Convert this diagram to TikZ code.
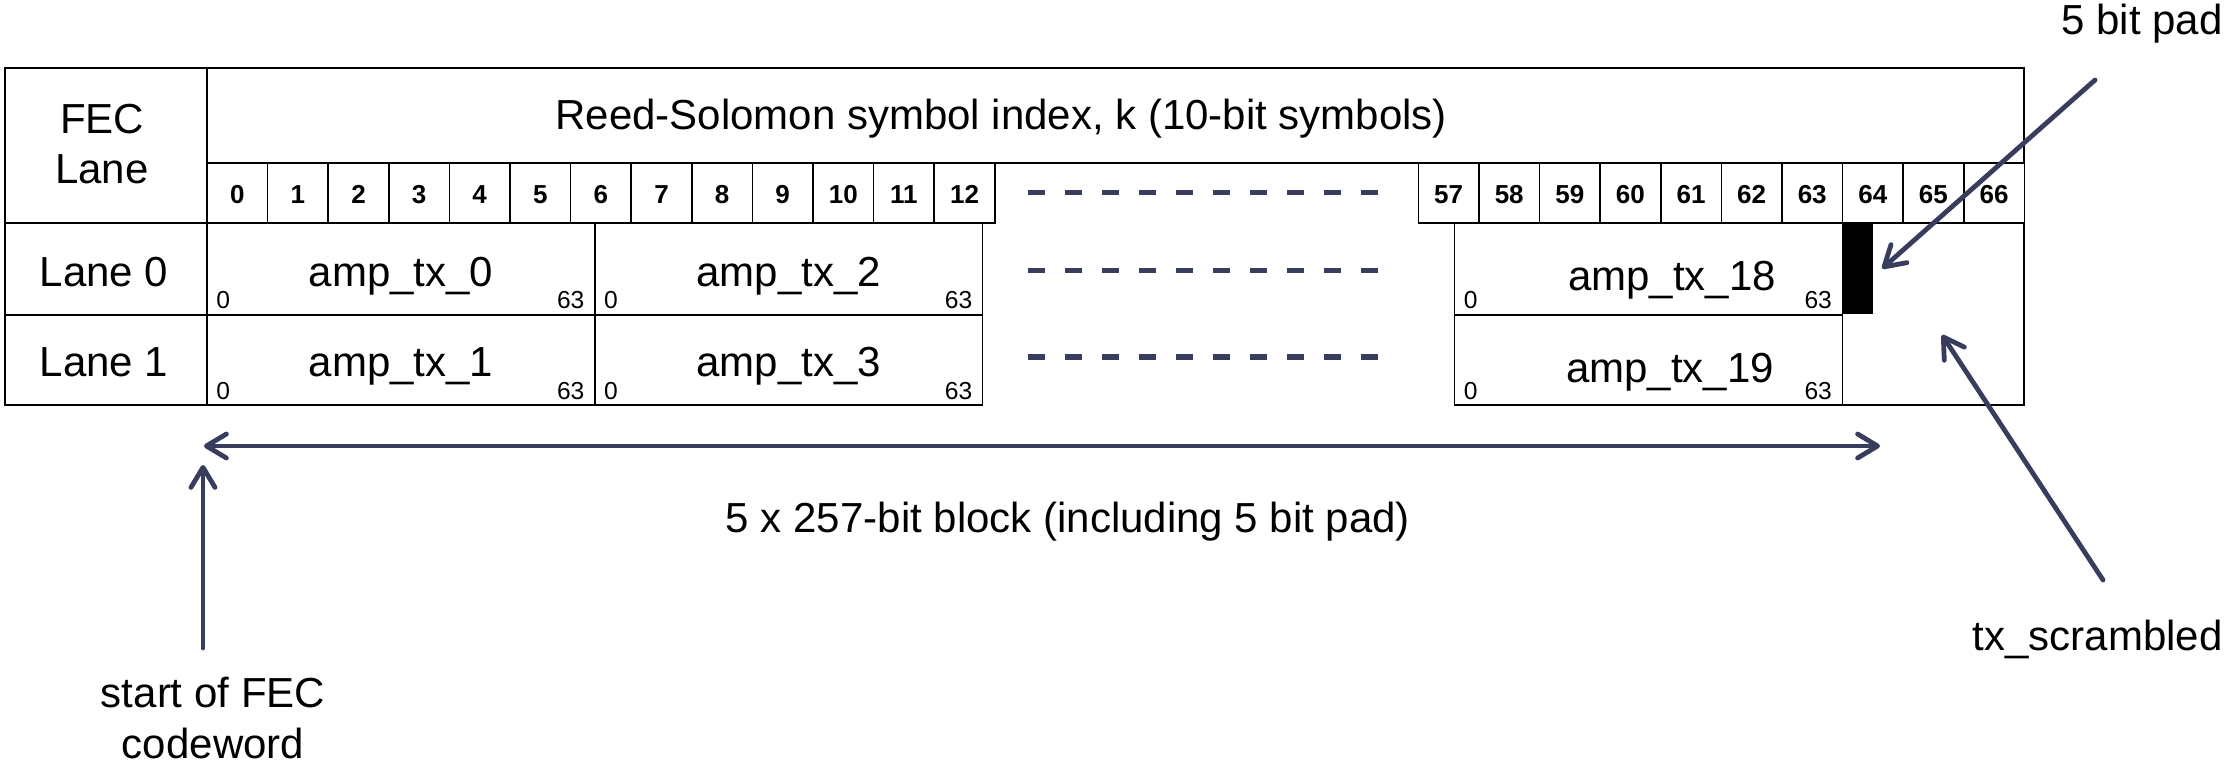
\documentclass[tikz,border=0pt]{standalone}
\usepackage{fontspec}
\setmainfont{Liberation Sans}
\usetikzlibrary{arrows.meta}
\definecolor{navy}{RGB}{56,61,94}
\begin{document}
\begin{tikzpicture}[x=0.5pt,y=-0.5pt,
  grid/.style={draw=black,line width=0.8pt},
  big/.style={font=\fontsize{21}{25}\selectfont,inner sep=0pt},
  idx/.style={font=\fontsize{13}{15}\selectfont\bfseries,anchor=base,inner sep=0pt},
  small/.style={font=\fontsize{12.3}{14}\selectfont,inner sep=0pt},
  tip/.tip={Straight Barb[length=10pt,width=12pt,line cap=round,line join=round]},
  arr/.style={draw=navy,line width=2.4pt,line cap=round,-tip},
  darr/.style={arr,tip-tip},
  gap/.style={draw=navy,line width=2.7pt,dash pattern=on 8.5pt off 10pt}]
\useasboundingbox (0,0) rectangle (2226,764);

% cell width of one 10-bit symbol
\def\cw{60.6}

% left column and header
\draw[grid] (5,68) rectangle (207,223);
\draw[grid] (5,223) rectangle (207,315);
\draw[grid] (5,315) rectangle (207,405);
\draw[grid] (207,68) rectangle (2024,163);
\node[big,align=center,font=\fontsize{21}{25}\selectfont] (feclane) at (102,144) {FEC\\Lane};
\node[big,anchor=base west] (rshead) at (555,130) {Reed-Solomon symbol index, k (10-bit symbols)};

% symbol index cells 0..12
\foreach \i in {0,...,12}{
  \draw[grid] ({207+\i*\cw},163) rectangle ({207+(\i+1)*\cw},223);
  \node[idx] (k\i) at ({207+(\i+0.5)*\cw},204) {\i};
}
% symbol index cells 57..66
\foreach \k [count=\j from 0] in {57,...,66}{
  \draw[grid] ({1418.3+\j*\cw},163) rectangle ({1418.3+(\j+1)*\cw},223);
  \node[idx] (k\k) at ({1418.3+(\j+0.5)*\cw},204) {\k};
}

% lane labels
\node[big,anchor=base] (lane0) at (104,287) {Lane 0};
\node[big,anchor=base] (lane1) at (104,377) {Lane 1};

% alignment marker blocks
\draw[grid] (207,223) rectangle (594.8,315);
\draw[grid] (207,315) rectangle (594.8,405);
\draw[grid] (594.8,223) rectangle (982.6,315);
\draw[grid] (594.8,315) rectangle (982.6,405);
\draw[grid] (1454.5,223) rectangle (1842.3,315);
\draw[grid] (1454.5,315) rectangle (1842.3,405);
\draw[grid] (1842.3,223) rectangle (2024,405);

\node[big,anchor=base] (amp0) at (401,287) {amp\_tx\_0};
\node[big,anchor=base] (amp2) at (788.7,287) {amp\_tx\_2};
\node[big,anchor=base] (amp18) at (1672,291) {amp\_tx\_18};
\node[big,anchor=base] (amp1) at (401,377) {amp\_tx\_1};
\node[big,anchor=base] (amp3) at (788.7,377) {amp\_tx\_3};
\node[big,anchor=base] (amp19) at (1670,383) {amp\_tx\_19};

% bit positions inside each block
\foreach \l/\r/\n in {207/594.8/a, 594.8/982.6/b, 1454.5/1842.3/c}{
  \node[small,anchor=base west] (lo0\n) at ({\l+9},308.5) {0};
  \node[small,anchor=base east] (hi0\n) at ({\r-10},308.5) {63};
  \node[small,anchor=base west] (lo1\n) at ({\l+9},399.5) {0};
  \node[small,anchor=base east] (hi1\n) at ({\r-10},399.5) {63};
}

% 5 bit pad
\node[fill=black,draw=black,line width=0.5pt,inner sep=0pt,minimum width=15pt,minimum height=45.5pt] (pad) at (1857.3,268.5) {};

% omitted symbols
\draw[gap] (1028,192.7) -- (1379,192.7);
\draw[gap] (1028,270.7) -- (1379,270.7);
\draw[gap] (1028,357) -- (1379,357);

% annotations
\node[big,anchor=base east] (padlbl) at (2223,35) {5 bit pad};
\node[big,anchor=base] (blocklbl) at (1068,532) {5 x 257-bit block (including 5 bit pad)};
\node[big,align=center,font=\fontsize{21}{25.85}\selectfont] (startlbl) at (213,718) {start of FEC\\codeword};
\node[big,anchor=base east] (txlbl) at (2223,650) {tx\_scrambled};

\coordinate (padtail) at (2095,80);
\coordinate (txtail) at (2103,580);
\coordinate (txtip) at (1942,335);
\coordinate (bstart) at (204,446);
\coordinate (bend) at (1880,446);
\coordinate (ststail) at (203,648);
\coordinate (ststip) at (203,465);

\draw[arr] (padtail) -- ([xshift=4.7pt]pad.east);
\draw[arr] (txtail) -- (txtip);
\draw[darr] (bstart) -- (bend);
\draw[arr] (ststail) -- (ststip);
\end{tikzpicture}
\end{document}
